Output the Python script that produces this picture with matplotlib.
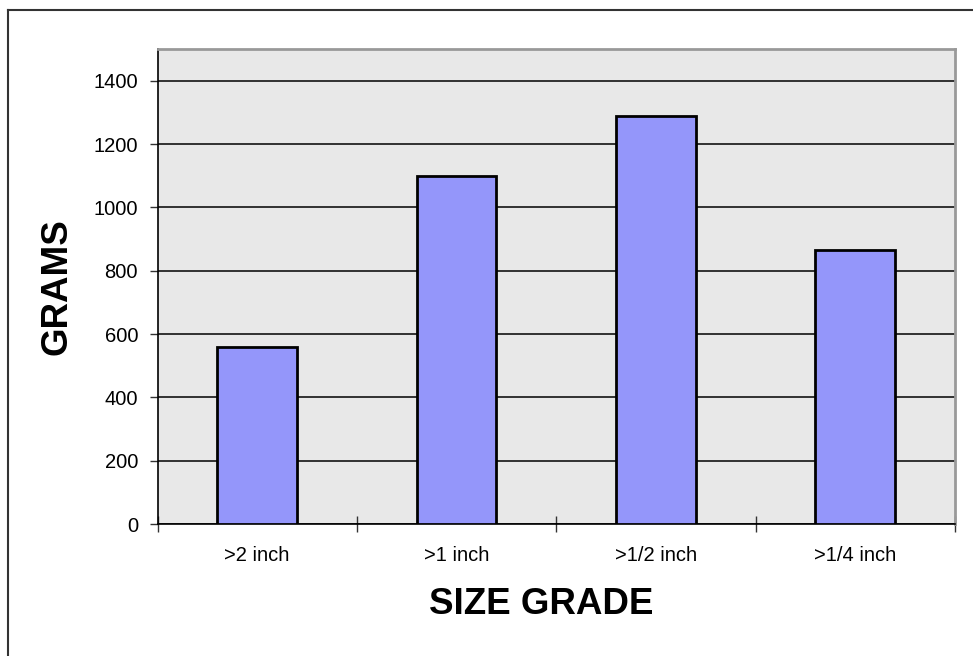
import matplotlib
matplotlib.use("Agg")
import matplotlib.pyplot as plt
from matplotlib.lines import Line2D

categories = [">2 inch", ">1 inch", ">1/2 inch", ">1/4 inch"]
grams = [560, 1100, 1290, 865]
y_ticks = [0, 200, 400, 600, 800, 1000, 1200, 1400]

plt.rcParams['font.family'] = ['Liberation Sans', 'DejaVu Sans']

W, H = 973, 656
fig = plt.figure(figsize=(W / 100, H / 100), dpi=100)
ax = fig.add_axes([157.5 / W, 1 - 524 / H, (955 - 157.5) / W, (524 - 49) / H])
ax.set_facecolor('#E8E8E8')

x = list(range(len(categories)))
ax.bar(x, grams, width=0.4, color='#9496FA', edgecolor='black', linewidth=2, zorder=3)

ax.set_xlim(-0.5, len(categories) - 0.5)
ax.set_ylim(0, 1500)
ax.set_yticks(y_ticks)
ax.set_yticklabels([str(v) for v in y_ticks], fontsize=14.5)
ax.yaxis.grid(True, color='black', linewidth=1.1, zorder=1)
ax.set_axisbelow(True)

ax.set_xticks([i + 0.5 for i in range(-1, len(categories))])
ax.set_xticklabels([])
ax.set_xticks(x, minor=True)
ax.set_xticklabels(categories, minor=True, fontsize=14.5)
ax.tick_params(axis='x', which='major', direction='inout', length=12, width=1, color='#333333')
ax.tick_params(axis='x', which='minor', length=0, pad=16)
ax.tick_params(axis='y', direction='out', length=6, width=1, pad=8, color='#333333')

ax.spines['left'].set_color('black')
ax.spines['bottom'].set_color('black')
ax.spines['left'].set_linewidth(1.2)
ax.spines['bottom'].set_linewidth(1.2)
ax.spines['top'].set_color('#999999')
ax.spines['right'].set_color('#999999')
ax.spines['top'].set_linewidth(2)
ax.spines['right'].set_linewidth(2)

fig.text(57 / W, 1 - 287 / H, 'GRAMS', rotation=90, fontsize=26.5, fontweight='bold',
         ha='center', va='center')
fig.text(541 / W, 1 - 604 / H, 'SIZE GRADE', fontsize=26.5, fontweight='bold',
         ha='center', va='center')

fig.add_artist(Line2D([8 / W, 1], [1 - 10 / H, 1 - 10 / H], transform=fig.transFigure,
                      color='#333333', linewidth=1.5))
fig.add_artist(Line2D([8 / W, 8 / W], [0, 1 - 10 / H], transform=fig.transFigure,
                      color='#333333', linewidth=1.5))

fig.savefig('out.png', dpi=100)
